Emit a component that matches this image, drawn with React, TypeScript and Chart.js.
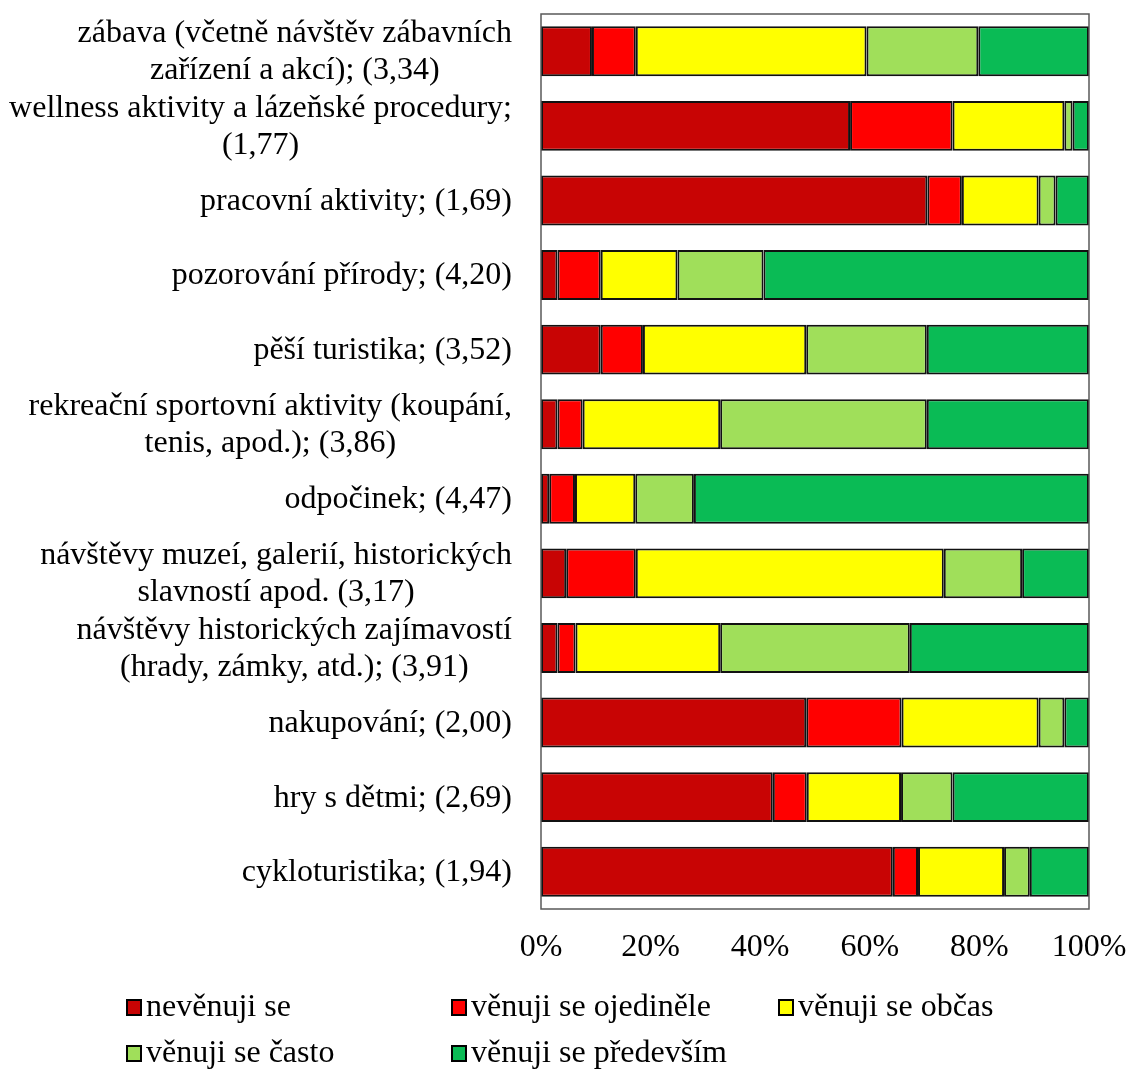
import React, { useEffect, useRef } from "react";
import { Chart, registerables } from "chart.js";

Chart.register(...registerables);

const categories: string[][] = [
  ["zábava (včetně návštěv zábavních", "zařízení a akcí); (3,34)"],
  ["wellness aktivity a lázeňské procedury;", "(1,77)"],
  ["pracovní aktivity; (1,69)"],
  ["pozorování přírody; (4,20)"],
  ["pěší turistika; (3,52)"],
  ["rekreační sportovní aktivity (koupání,", "tenis, apod.); (3,86)"],
  ["odpočinek; (4,47)"],
  ["návštěvy muzeí, galerií, historických", "slavností apod. (3,17)"],
  ["návštěvy historických zajímavostí", "(hrady, zámky, atd.); (3,91)"],
  ["nakupování; (2,00)"],
  ["hry s dětmi; (2,69)"],
  ["cykloturistika; (1,94)"],
];

const seriesNames = [
  "nevěnuji se",
  "věnuji se ojediněle",
  "věnuji se občas",
  "věnuji se často",
  "věnuji se především",
];

const nevenujiSe = [9.3, 56.4, 70.5, 3.0, 10.9, 3.0, 1.5, 4.6, 3.0, 48.4, 42.3, 64.2];
const ojedinele = [8.0, 18.7, 6.3, 7.9, 7.7, 4.6, 4.7, 12.7, 3.3, 17.4, 6.2, 4.6];
const obcas = [42.1, 20.4, 14.0, 14.0, 29.8, 25.1, 11.0, 56.2, 26.4, 25.0, 17.2, 15.7];
const casto = [20.4, 1.5, 3.1, 15.7, 22.0, 37.7, 10.7, 14.3, 34.6, 4.7, 9.4, 4.7];
const predevsim = [20.2, 3.0, 6.1, 59.4, 29.6, 29.6, 72.1, 12.2, 32.7, 4.5, 24.9, 10.8];

const xTicks = [0, 20, 40, 60, 80, 100];

const colors = ["#C80404", "#FF0000", "#FFFF00", "#A0DF5A", "#0ABB55"];

const FAMILY = "'Liberation Serif', 'Times New Roman', serif";
const FONT = "32px " + FAMILY;

export default function App() {
  const ref = useRef<HTMLCanvasElement | null>(null);

  useEffect(() => {
    if (!ref.current) return;
    const values = [nevenujiSe, ojedinele, obcas, casto, predevsim];

    const customPlugin = {
      id: "custom",
      afterDraw(chart: any) {
        const ctx = chart.ctx;
        const area = chart.chartArea;
        const yScale = chart.scales.y;
        ctx.save();
        // plot border
        ctx.strokeStyle = "#595959";
        ctx.lineWidth = 1.5;
        ctx.strokeRect(area.left, area.top, area.right - area.left, area.bottom - area.top);
        // category labels
        ctx.font = FONT;
        ctx.fillStyle = "#000";
        ctx.textBaseline = "middle";
        ctx.textAlign = "center";
        const lineH = 37;
        categories.forEach((lines, i) => {
          const y = yScale.getPixelForValue(i);
          const w = Math.max(...lines.map((l) => ctx.measureText(l).width));
          const right = area.left - 29;
          const cx = right - w / 2;
          lines.forEach((l, j) => {
            ctx.fillText(l, cx, y + (j - (lines.length - 1) / 2) * lineH + 1);
          });
        });
        // legend
        const cols = [127, 452, 779];
        const rows = [1007, 1053];
        seriesNames.forEach((name, i) => {
          const col = cols[i % 3];
          const row = rows[Math.floor(i / 3)];
          ctx.fillStyle = colors[i];
          ctx.fillRect(col, row - 7, 14, 15);
          ctx.strokeStyle = "#000";
          ctx.lineWidth = 2;
          ctx.strokeRect(col, row - 7, 14, 15);
          ctx.fillStyle = "#000";
          ctx.textAlign = "left";
          ctx.fillText(name, col + 19, row + 1);
        });
        ctx.restore();
      },
    };

    const chart = new Chart(ref.current, {
      type: "bar",
      data: {
        labels: categories.map((c) => c.join(" ")),
        datasets: seriesNames.map((name, i) => ({
          label: name,
          data: values[i],
          backgroundColor: colors[i],
          borderColor: "#111",
          borderWidth: 2,
          borderSkipped: false,
          barPercentage: 0.67,
          categoryPercentage: 1,
        })),
      },
      options: {
        indexAxis: "y",
        animation: false,
        responsive: true,
        maintainAspectRatio: false,
        layout: { padding: { top: 14, right: 40, left: 0, bottom: 101 } },
        plugins: {
          legend: { display: false },
          tooltip: { enabled: false },
        },
        scales: {
          x: {
            stacked: true,
            min: 0,
            max: 100,
            afterBuildTicks: (scale: any) => {
              scale.ticks = xTicks.map((v) => ({ value: v }));
            },
            afterFit: (scale: any) => {
              scale.height = 60;
              scale.paddingLeft = 0;
              scale.paddingRight = 0;
            },
            grid: { display: false, drawTicks: false },
            border: { display: false },
            ticks: {
              color: "#000",
              font: { family: FAMILY, size: 32 },
              padding: 19,
              maxRotation: 0,
              autoSkip: false,
              callback: (v: any) => v + "%",
            },
          },
          y: {
            stacked: true,
            afterFit: (scale: any) => {
              scale.width = 541;
              scale.paddingTop = 0;
              scale.paddingBottom = 0;
            },
            grid: { display: false, drawTicks: false },
            border: { display: false },
            ticks: { display: false },
          },
        },
      },
      plugins: [customPlugin],
    });
    return () => chart.destroy();
  }, []);

  return (
    <div style={{ position: "absolute", left: 0, top: 0, width: 1129, height: 1070 }}>
      <canvas ref={ref} />
    </div>
  );
}
